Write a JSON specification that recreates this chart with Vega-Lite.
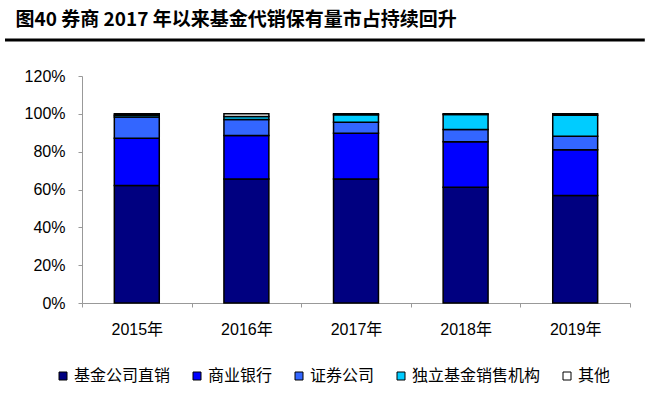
{
  "$schema": "https://vega.github.io/schema/vega-lite/v6.json",
  "background": "white",
  "padding": {"left": 3, "top": 10, "right": 2, "bottom": 5},
  "config": {"view": {"stroke": null}},
  "title": {
    "text": "图40 券商 2017 年以来基金代销保有量市占持续回升",
    "anchor": "start",
    "frame": "bounds",
    "font": "Noto Sans CJK SC",
    "fontSize": 19,
    "fontWeight": "bold",
    "color": "black",
    "dx": 12,
    "offset": 9
  },
  "width": 548,
  "height": 227,
  "resolve": {"scale": {"x": "independent"}},
  "layer": [
    {
      "data": {
        "values": [
          {"year": "2015年", "cat": "基金公司直销", "o": 1, "v": 62.1},
          {"year": "2015年", "cat": "商业银行", "o": 2, "v": 25.0},
          {"year": "2015年", "cat": "证券公司", "o": 3, "v": 11.2},
          {"year": "2015年", "cat": "独立基金销售机构", "o": 4, "v": 1.0},
          {"year": "2015年", "cat": "其他", "o": 5, "v": 0.7},
          {"year": "2016年", "cat": "基金公司直销", "o": 1, "v": 65.6},
          {"year": "2016年", "cat": "商业银行", "o": 2, "v": 22.9},
          {"year": "2016年", "cat": "证券公司", "o": 3, "v": 8.5},
          {"year": "2016年", "cat": "独立基金销售机构", "o": 4, "v": 1.6},
          {"year": "2016年", "cat": "其他", "o": 5, "v": 1.4},
          {"year": "2017年", "cat": "基金公司直销", "o": 1, "v": 65.6},
          {"year": "2017年", "cat": "商业银行", "o": 2, "v": 24.2},
          {"year": "2017年", "cat": "证券公司", "o": 3, "v": 5.8},
          {"year": "2017年", "cat": "独立基金销售机构", "o": 4, "v": 3.9},
          {"year": "2017年", "cat": "其他", "o": 5, "v": 0.5},
          {"year": "2018年", "cat": "基金公司直销", "o": 1, "v": 61.2},
          {"year": "2018年", "cat": "商业银行", "o": 2, "v": 24.1},
          {"year": "2018年", "cat": "证券公司", "o": 3, "v": 6.4},
          {"year": "2018年", "cat": "独立基金销售机构", "o": 4, "v": 8.0},
          {"year": "2018年", "cat": "其他", "o": 5, "v": 0.3},
          {"year": "2019年", "cat": "基金公司直销", "o": 1, "v": 56.8},
          {"year": "2019年", "cat": "商业银行", "o": 2, "v": 24.2},
          {"year": "2019年", "cat": "证券公司", "o": 3, "v": 7.2},
          {"year": "2019年", "cat": "独立基金销售机构", "o": 4, "v": 11.0},
          {"year": "2019年", "cat": "其他", "o": 5, "v": 0.8}
        ]
      },
      "mark": {"type": "bar", "width": {"band": 0.41}, "stroke": "black", "strokeWidth": 1.5},
      "encoding": {
        "x": {
          "field": "year",
          "type": "nominal",
          "sort": null,
          "scale": {"paddingInner": 0, "paddingOuter": 0},
          "axis": {
            "title": null,
            "labelAngle": 0,
            "tickBand": "extent",
            "tickSize": 4,
            "tickColor": "#999999",
            "domainColor": "#999999",
            "labelFont": "Liberation Sans, Noto Sans CJK SC",
            "labelFontSize": 16,
            "labelColor": "black",
            "labelPadding": 14
          }
        },
        "y": {
          "field": "v",
          "type": "quantitative",
          "stack": "zero",
          "scale": {"domain": [0, 120], "nice": false},
          "axis": {
            "title": null,
            "values": [0, 20, 40, 60, 80, 100, 120],
            "labelExpr": "datum.value + '%'",
            "labelOverlap": false,
            "grid": false,
            "tickSize": 4,
            "tickColor": "#999999",
            "domainColor": "#999999",
            "labelFont": "Liberation Sans",
            "labelFontSize": 16,
            "labelColor": "black",
            "labelPadding": 13,
            "minExtent": 77
          }
        },
        "color": {
          "field": "cat",
          "type": "nominal",
          "scale": {
            "domain": ["基金公司直销", "商业银行", "证券公司", "独立基金销售机构", "其他"],
            "range": ["#000080", "#0000FF", "#3366FF", "#00CCFF", "#FFFFFF"]
          },
          "legend": {
            "title": null,
            "orient": "none",
            "direction": "horizontal",
            "legendX": -27,
            "legendY": 292,
            "symbolType": "square",
            "symbolSize": 64,
            "symbolStrokeColor": "black",
            "symbolStrokeWidth": 1,
            "labelFont": "Noto Sans CJK SC",
            "labelFontSize": 16,
            "labelColor": "black",
            "labelOffset": 3,
            "columnPadding": 18,
            "padding": 0
          }
        },
        "order": {"field": "o", "type": "quantitative", "sort": "ascending"}
      }
    },
    {
      "data": {"values": [{"k": 0}]},
      "mark": {"type": "rule", "color": "black", "strokeWidth": 3},
      "encoding": {
        "y": {
          "datum": 139,
          "type": "quantitative",
          "scale": {"domain": [0, 120], "nice": false},
          "axis": {
            "title": null,
            "values": [0, 20, 40, 60, 80, 100, 120],
            "labelExpr": "datum.value + '%'",
            "labelOverlap": false,
            "grid": false,
            "tickSize": 4,
            "tickColor": "#999999",
            "domainColor": "#999999",
            "labelFont": "Liberation Sans",
            "labelFontSize": 16,
            "labelColor": "black",
            "labelPadding": 13,
            "minExtent": 77
          }
        },
        "x": {"datum": -0.1405, "type": "quantitative", "scale": {"domain": [0, 1]}, "axis": null},
        "x2": {"datum": 1.027}
      }
    }
  ]
}
